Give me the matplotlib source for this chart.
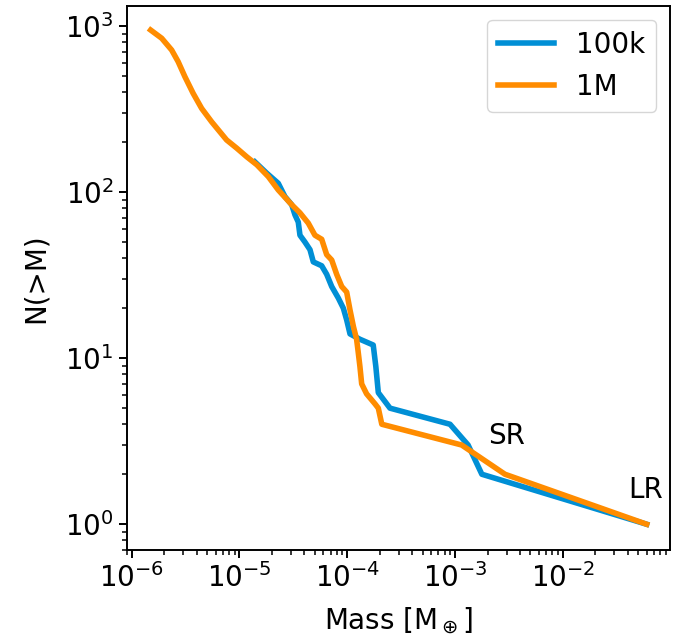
import numpy as np
import matplotlib
matplotlib.use('Agg')
import matplotlib.pyplot as plt

# cumulative mass functions, N(>M) vs M [Earth masses]
mass_100k = [1.39e-5, 1.79e-5, 2.29e-5, 2.64e-5, 3.05e-5, 3.27e-5, 3.51e-5, 3.64e-5,
             4.05e-5, 4.51e-5, 4.84e-5, 5.79e-5, 6.44e-5, 7.17e-5, 8.26e-5, 9.19e-5,
             9.87e-5, 1.06e-4, 1.31e-4, 1.74e-4, 1.84e-4, 1.94e-4, 2.49e-4, 8.97e-4,
             1.32e-3, 1.77e-3, 5.98e-2]
count_100k = [152, 130, 113, 94, 84, 73, 66, 55,
              50, 45, 38, 36, 32, 27, 23, 20,
              17, 14, 13, 12, 8.9, 6.2, 5, 4,
              3, 2, 1]

mass_1m = [1.50e-6, 1.90e-6, 2.35e-6, 2.70e-6, 3.12e-6, 3.72e-6, 4.46e-6, 5.52e-6,
           6.36e-6, 7.60e-6, 9.42e-6, 1.17e-5, 1.45e-5, 1.85e-5, 2.29e-5, 3.05e-5,
           3.64e-5, 4.35e-5, 5.01e-5, 5.79e-5, 6.44e-5, 7.17e-5, 7.97e-5, 8.88e-5,
           9.87e-5, 1.06e-4, 1.14e-4, 1.22e-4, 1.26e-4, 1.31e-4, 1.36e-4, 1.51e-4,
           1.81e-4, 1.94e-4, 2.09e-4, 1.15e-3, 2.90e-3, 5.98e-2]
count_1m = [946, 844, 717, 610, 495, 393, 319, 265,
            237, 206, 184, 163, 146, 124, 103, 84,
            75, 65, 55, 52, 42, 39, 32, 27,
            25, 19.5, 15.5, 13, 11, 8.9, 7, 6.1,
            5.3, 5, 4, 3, 2, 1]

labels = ['100k', '1M']
colors = ['#008fd5', '#ff8c00']

FS = 20
plt.rcParams.update({
    'font.size': FS,
    'axes.linewidth': 1.4,
    'xtick.major.size': 6, 'ytick.major.size': 6,
    'xtick.minor.size': 3.5, 'ytick.minor.size': 3.5,
    'xtick.major.width': 1.4, 'ytick.major.width': 1.4,
    'xtick.minor.width': 1.1, 'ytick.minor.width': 1.1,
})

fig = plt.figure(figsize=(6.9, 6.41), dpi=100)
ax = fig.add_axes([0.1836, 0.142, 0.7874, 0.849])

ax.plot(mass_100k, count_100k, color=colors[0], lw=4, label=labels[0])
ax.plot(mass_1m, count_1m, color=colors[1], lw=4, label=labels[1])

ax.set_xscale('log')
ax.set_yscale('log')
ax.set_xlim(10**-6.046, 10**-1.007)
ax.set_ylim(10**-0.155, 10**3.122)

ax.text(2.02e-3, 3.4, 'SR', ha='left', va='center')
ax.text(4.02e-2, 1.61, 'LR', ha='left', va='center')

ax.set_xlabel(r'Mass [M$_\oplus$]', labelpad=9)
ax.set_ylabel('N(>M)', labelpad=11)
ax.legend(loc='upper right')

fig.savefig('out.png', dpi=100)
